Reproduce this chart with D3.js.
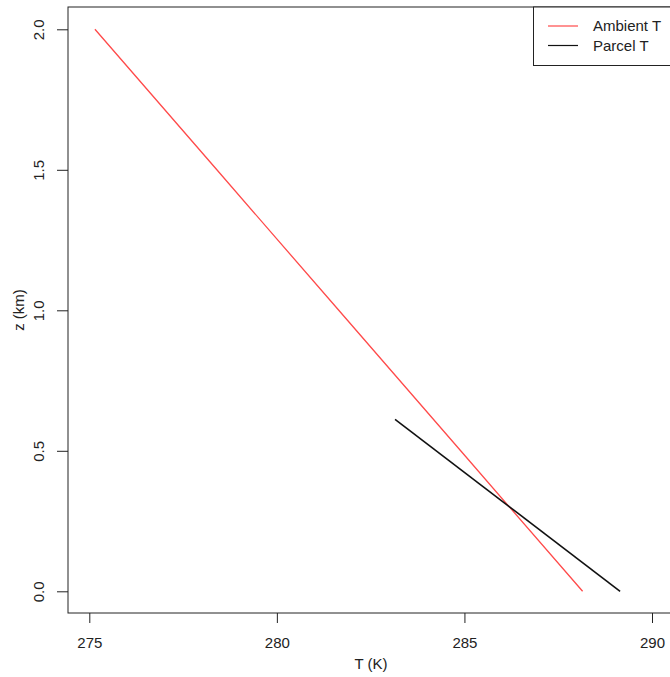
<!DOCTYPE html>
<html>
<head>
<meta charset="utf-8">
<script src="https://cdn.jsdelivr.net/npm/d3@7"></script>
<style>
  body { margin: 0; background: #fff; overflow: hidden; }
  text { font-family: "Liberation Sans", Arial, sans-serif; fill: #222; }
</style>
</head>
<body>
<div id="chart"></div>
<script>
// ambient profile (6.5 K/km) and rising parcel (dry adiabat)
var ambientZ = [0, 0.5, 1.0, 1.5, 2.0];
var ambientT = [288.15, 284.9, 281.65, 278.4, 275.15];
var parcelZ = [0, 0.612];
var parcelT = [289.15, 283.15];
var xTicks = [275, 280, 285, 290];
var yTicks = [0, 0.5, 1.0, 1.5, 2.0];
var legendLabels = ["Ambient T", "Parcel T"];
var legendColors = ["#ff4a4a", "#111"];

var width = 670, height = 677;
var box = {left: 68, top: 7, right: 676, bottom: 613};
var fs = "15px";

var svg = d3.select("#chart").append("svg")
    .attr("width", width).attr("height", height);

var x = d3.scaleLinear().domain([275, 290]).range([89.3, 652]);
var y = d3.scaleLinear().domain([0, 2]).range([591.3, 29.3]);

// plot frame
svg.append("rect")
    .attr("x", box.left).attr("y", box.top)
    .attr("width", box.right - box.left).attr("height", box.bottom - box.top)
    .attr("fill", "none").attr("stroke", "#222").attr("stroke-width", 1);

// x axis
var xAxis = svg.append("g").attr("transform", "translate(0," + box.bottom + ")")
    .call(d3.axisBottom(x).tickValues(xTicks).tickSize(10).tickPadding(14).tickFormat(d3.format("d")));
xAxis.select(".domain").remove();
xAxis.selectAll("line").attr("stroke", "#222");
xAxis.selectAll("text").style("font-size", fs).style("fill", "#222")
    .style("font-family", "'Liberation Sans', Arial, sans-serif");

// y axis, labels rotated like R's las=0
var yAxis = svg.append("g").attr("transform", "translate(" + box.left + ",0)")
    .call(d3.axisLeft(y).tickValues(yTicks).tickSize(11).tickFormat(d3.format(".1f")));
yAxis.select(".domain").remove();
yAxis.selectAll("line").attr("stroke", "#222");
yAxis.selectAll("text")
    .attr("x", null).attr("dy", null)
    .attr("text-anchor", "middle")
    .attr("transform", "translate(-29,0) rotate(-90)")
    .attr("dy", "0.35em")
    .style("font-size", fs).style("fill", "#222")
    .style("font-family", "'Liberation Sans', Arial, sans-serif");

// axis titles
svg.append("text").attr("x", 371).attr("y", 669)
    .attr("text-anchor", "middle").style("font-size", fs).text("T (K)");
svg.append("text").attr("transform", "translate(24,310) rotate(-90)")
    .attr("text-anchor", "middle").style("font-size", fs).text("z (km)");

var line = d3.line()
    .x(function(d){ return x(d.t); })
    .y(function(d){ return y(d.z); });

var ambient = ambientZ.map(function(z, i){ return {z: z, t: ambientT[i]}; });
var parcel = parcelZ.map(function(z, i){ return {z: z, t: parcelT[i]}; });

svg.append("path").datum(ambient).attr("d", line)
    .attr("fill", "none").attr("stroke", legendColors[0]).attr("stroke-width", 1.3);
svg.append("path").datum(parcel).attr("d", line)
    .attr("fill", "none").attr("stroke", legendColors[1]).attr("stroke-width", 1.6);

// legend, top right corner
var lg = svg.append("g");
lg.append("rect").attr("x", 533.5).attr("y", box.top)
    .attr("width", box.right - 533.5).attr("height", 58.5)
    .attr("fill", "#fff").attr("stroke", "#222").attr("stroke-width", 1);
legendLabels.forEach(function(lab, i){
    var ly = 26 + i * 19.5;
    lg.append("line").attr("x1", 548).attr("x2", 578).attr("y1", ly).attr("y2", ly)
        .attr("stroke", legendColors[i]).attr("stroke-width", 1.2);
    lg.append("text").attr("x", 593).attr("y", ly).attr("dy", "0.35em")
        .style("font-size", fs).text(lab);
});
</script>
</body>
</html>
